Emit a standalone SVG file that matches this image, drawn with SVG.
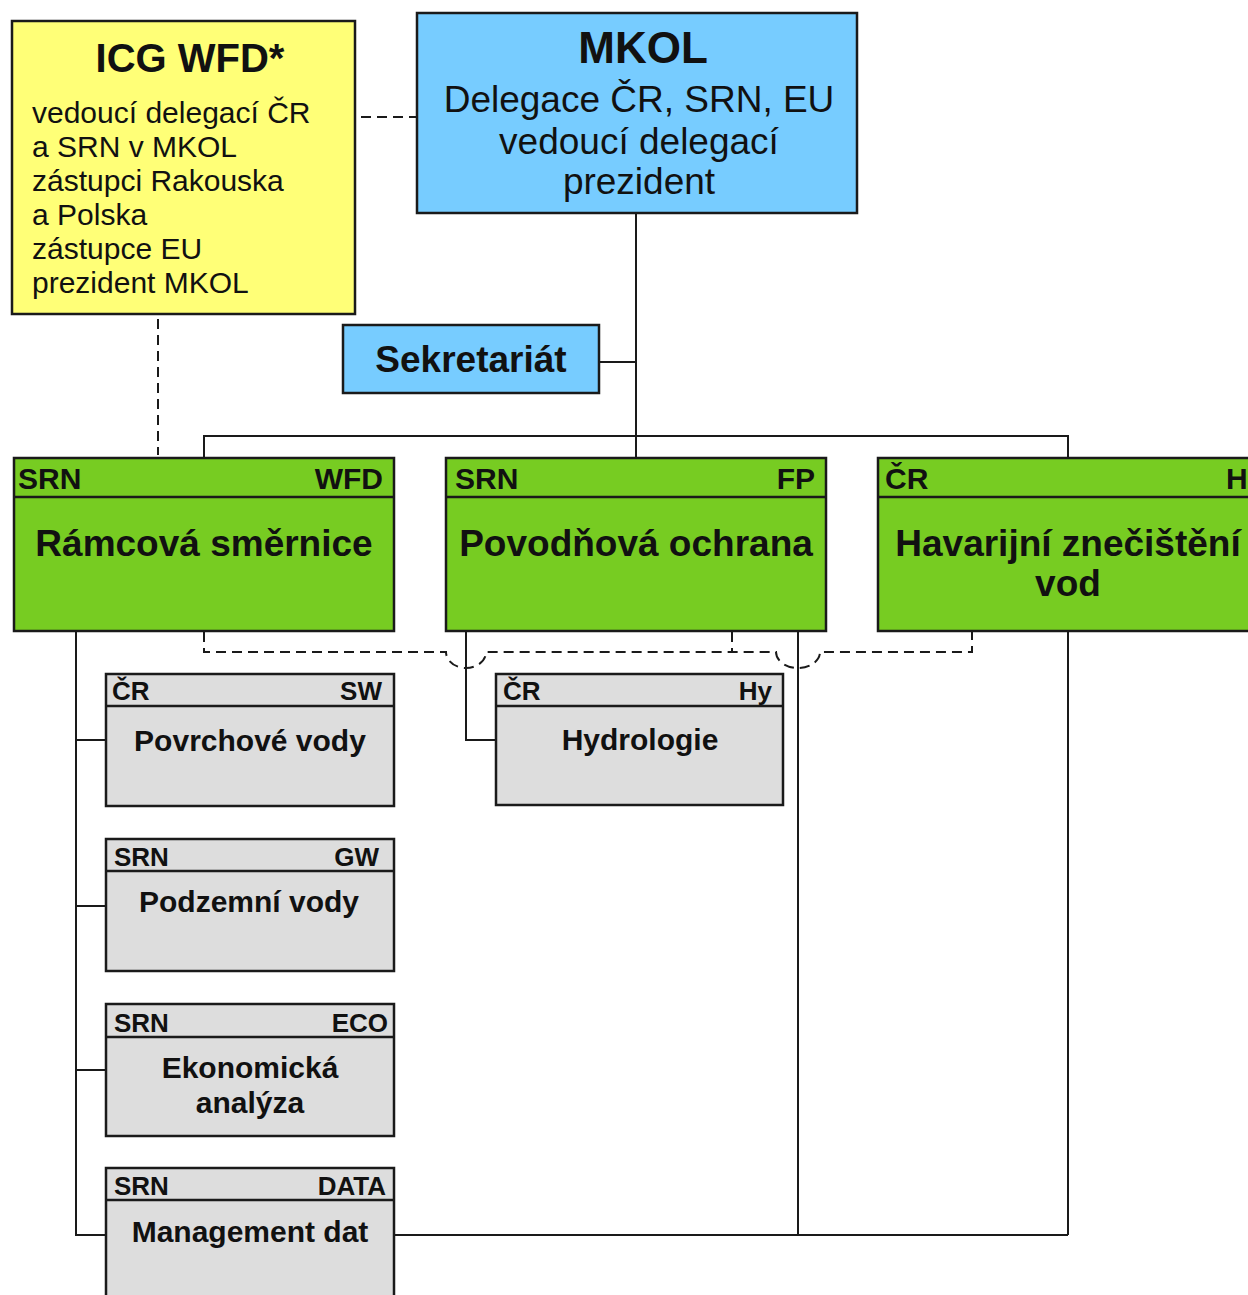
<svg xmlns="http://www.w3.org/2000/svg" width="1248" height="1295" viewBox="0 0 1248 1295">
<style>
  .box{stroke:#1a1a1a;stroke-width:2.5}
  .yel{fill:#FFFF77}
  .blu{fill:#77CCFF}
  .grn{fill:#77CC22}
  .gry{fill:#DDDDDD}
  .sep{stroke:#1a1a1a;stroke-width:2.5;fill:none}
  .ln{stroke:#1a1a1a;stroke-width:2;fill:none}
  .dash{stroke:#1a1a1a;stroke-width:2;fill:none;stroke-dasharray:10 6}
  text{font-family:"Liberation Sans",Arial,sans-serif;fill:#111}
  .b{font-weight:bold}
  .mid{text-anchor:middle}
  .end{text-anchor:end}
  .hg{font-size:30px;font-weight:bold}
  .hs{font-size:26px;font-weight:bold}
  .tg{font-size:37px;font-weight:bold;text-anchor:middle}
  .ts{font-size:30px;font-weight:bold;text-anchor:middle}
</style>

<g id="connectors">
  <!-- dashed: ICG to MKOL -->
  <path class="dash" d="M361,117 H417"/>
  <!-- dashed: ICG down -->
  <path class="dash" d="M158,319 V455"/>
  <!-- dashed working group link -->
  <path class="dash" d="M204,632 V652 H446 A20,16 0 0 0 486,652 H776 A22,16 0 0 0 820,652 H972 V632"/>
  <path class="dash" d="M732,632 V652"/>
  <!-- solid tree -->
  <path class="ln" d="M636,213 V458"/>
  <path class="ln" d="M599,362 H636"/>
  <path class="ln" d="M204,458 V436 H1068 V458"/>
  <path class="ln" d="M76,631 V1235 H106"/>
  <path class="ln" d="M76,740 H106"/>
  <path class="ln" d="M76,906 H106"/>
  <path class="ln" d="M76,1070 H106"/>
  <path class="ln" d="M466,631 V740 H496"/>
  <path class="ln" d="M798,631 V1235"/>
  <path class="ln" d="M1068,631 V1235"/>
  <path class="ln" d="M394,1235 H1068"/>
</g>

<g id="icg">
  <rect class="box yel" x="12" y="21" width="343" height="293"/>
  <text class="b mid" x="190" y="72" font-size="40">ICG WFD*</text>
  <text x="32" y="123" font-size="30">vedoucí delegací ČR</text>
  <text x="32" y="157" font-size="30">a SRN v MKOL</text>
  <text x="32" y="191" font-size="30">zástupci Rakouska</text>
  <text x="32" y="225" font-size="30">a Polska</text>
  <text x="32" y="259" font-size="30">zástupce EU</text>
  <text x="32" y="293" font-size="30">prezident MKOL</text>
</g>

<g id="mkol">
  <rect class="box blu" x="417" y="13" width="440" height="200"/>
  <text class="b mid" x="643" y="63" font-size="44">MKOL</text>
  <text class="mid" x="639" y="112" font-size="37">Delegace ČR, SRN, EU</text>
  <text class="mid" x="639" y="154" font-size="37">vedoucí delegací</text>
  <text class="mid" x="639" y="194" font-size="37">prezident</text>
</g>

<g id="sekretariat">
  <rect class="box blu" x="343" y="325" width="256" height="68"/>
  <text class="b mid" x="471" y="372" font-size="37">Sekretariát</text>
</g>

<g id="wfd">
  <rect class="box grn" x="14" y="458" width="380" height="173"/>
  <path class="sep" d="M14,497 H394"/>
  <text class="hg" x="18" y="489">SRN</text>
  <text class="hg end" x="383" y="489">WFD</text>
  <text class="tg" x="204" y="556">Rámcová směrnice</text>
</g>

<g id="fp">
  <rect class="box grn" x="446" y="458" width="380" height="173"/>
  <path class="sep" d="M446,497 H826"/>
  <text class="hg" x="455" y="489">SRN</text>
  <text class="hg end" x="815" y="489">FP</text>
  <text class="tg" x="636" y="556">Povodňová ochrana</text>
</g>

<g id="ap">
  <rect class="box grn" x="878" y="458" width="380" height="173"/>
  <path class="sep" d="M878,497 H1258"/>
  <text class="hg" x="885" y="489">ČR</text>
  <text class="hg" x="1226" y="489">H</text>
  <text class="tg" x="1068" y="556">Havarijní znečištění</text>
  <text class="tg" x="1068" y="596">vod</text>
</g>

<g id="sw">
  <rect class="box gry" x="106" y="674" width="288" height="132"/>
  <path class="sep" d="M106,706 H394"/>
  <text class="hs" x="112" y="700">ČR</text>
  <text class="hs end" x="382" y="700">SW</text>
  <text class="ts" x="250" y="751">Povrchové vody</text>
</g>

<g id="gw">
  <rect class="box gry" x="106" y="839" width="288" height="132"/>
  <path class="sep" d="M106,871 H394"/>
  <text class="hs" x="114" y="866">SRN</text>
  <text class="hs end" x="379" y="866">GW</text>
  <text class="ts" x="249" y="912">Podzemní vody</text>
</g>

<g id="eco">
  <rect class="box gry" x="106" y="1004" width="288" height="132"/>
  <path class="sep" d="M106,1037 H394"/>
  <text class="hs" x="114" y="1032">SRN</text>
  <text class="hs end" x="388" y="1032">ECO</text>
  <text class="ts" x="250" y="1078">Ekonomická</text>
  <text class="ts" x="250" y="1113">analýza</text>
</g>

<g id="data">
  <rect class="box gry" x="106" y="1168" width="288" height="140"/>
  <path class="sep" d="M106,1200 H394"/>
  <text class="hs" x="114" y="1195">SRN</text>
  <text class="hs end" x="386" y="1195">DATA</text>
  <text class="ts" x="250" y="1242">Management dat</text>
</g>

<g id="hy">
  <rect class="box gry" x="496" y="674" width="287" height="131"/>
  <path class="sep" d="M496,706 H783"/>
  <text class="hs" x="503" y="700">ČR</text>
  <text class="hs end" x="772" y="700">Hy</text>
  <text class="ts" x="640" y="750">Hydrologie</text>
</g>
</svg>
